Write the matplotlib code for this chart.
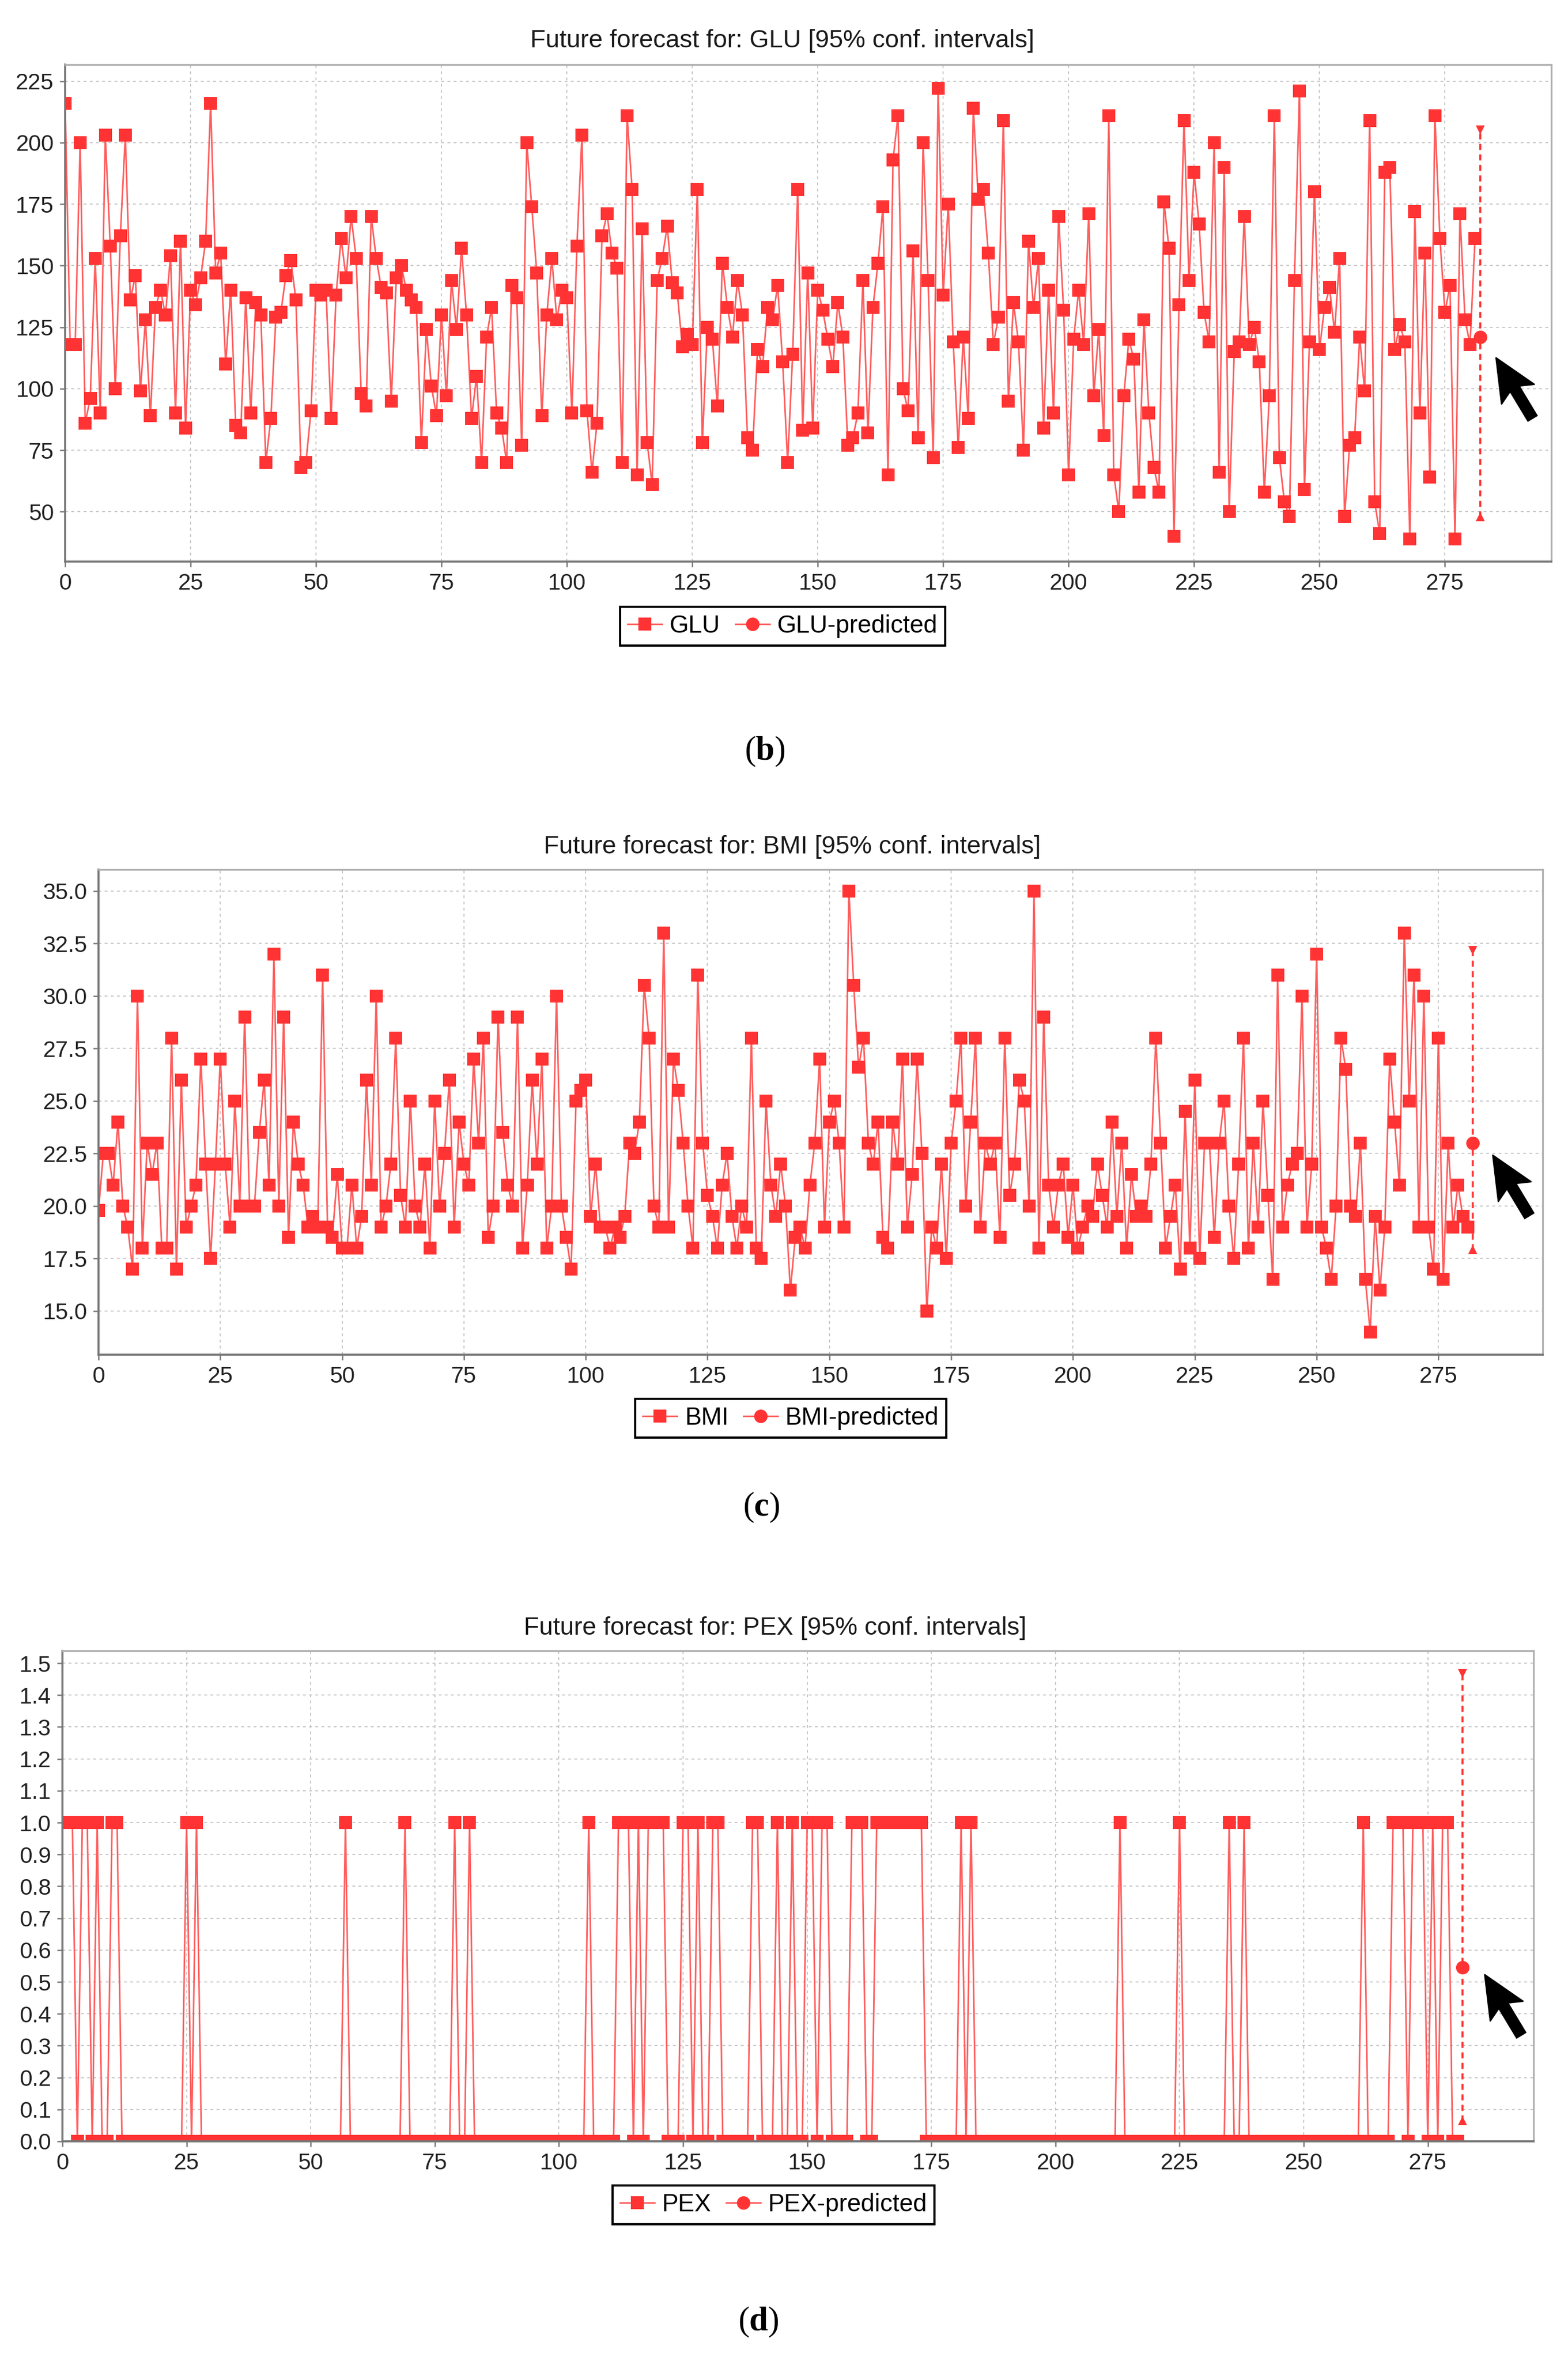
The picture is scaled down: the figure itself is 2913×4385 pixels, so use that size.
import matplotlib
matplotlib.use('Agg')
import matplotlib.pyplot as plt
from matplotlib.patches import Polygon

plt.rcParams['font.family'] = ['Liberation Sans', 'DejaVu Sans']
plt.rcParams['mathtext.fontset'] = 'custom'
plt.rcParams['mathtext.rm'] = 'Liberation Serif'
plt.rcParams['mathtext.bf'] = 'Liberation Serif:bold'

W, H, DPI = 2913, 4385, 300

x_ticks = [0, 25, 50, 75, 100, 125, 150, 175, 200, 225, 250, 275]

# GLU series, index 0..281
glu = [216, 118, 118, 200, 86, 96, 153, 90, 203, 158,
       100, 162, 203, 136, 146, 99, 128, 89, 133, 140,
       130, 154, 90, 160, 84, 140, 134, 145, 160, 216,
       147, 155, 110, 140, 85, 82, 137, 90, 135, 130,
       70, 88, 129, 131, 146, 152, 136, 68, 70, 91,
       140, 138, 140, 88, 138, 161, 145, 170, 153, 98,
       93, 170, 153, 141, 139, 95, 145, 150, 140, 136,
       133, 78, 124, 101, 89, 130, 97, 144, 124, 157,
       130, 88, 105, 70, 121, 133, 90, 84, 70, 142,
       137, 77, 200, 174, 147, 89, 130, 153, 128, 140,
       137, 90, 158, 203, 91, 66, 86, 162, 171, 155,
       149, 70, 211, 181, 65, 165, 78, 61, 144, 153,
       166, 143, 139, 117, 122, 118, 181, 78, 125, 120,
       93, 151, 133, 121, 144, 130, 80, 75, 116, 109,
       133, 128, 142, 111, 70, 114, 181, 83, 147, 84,
       140, 132, 120, 109, 135, 121, 77, 80, 90, 144,
       82, 133, 151, 174, 65, 193, 211, 100, 91, 156,
       80, 200, 144, 72, 222, 138, 175, 119, 76, 121,
       88, 214, 177, 181, 155, 118, 129, 209, 95, 135,
       119, 75, 160, 133, 153, 84, 140, 90, 170, 132,
       65, 120, 140, 118, 171, 97, 124, 81, 211, 65,
       50, 97, 120, 112, 58, 128, 90, 68, 58, 176,
       157, 40, 134, 209, 144, 188, 167, 131, 119, 200,
       66, 190, 50, 115, 119, 170, 118, 125, 111, 58,
       97, 211, 72, 54, 48, 144, 221, 59, 119, 180,
       116, 133, 141, 123, 153, 48, 77, 80, 121, 99,
       209, 54, 41, 188, 190, 116, 126, 119, 39, 172,
       90, 155, 64, 211, 161, 131, 142, 39, 171, 128,
       118, 161]
glu_pred = 121.0
glu_ci = [47.7, 205.5]
glu_yticks = [50, 75, 100, 125, 150, 175, 200, 225]

bmi = [19.8, 22.5, 22.5, 21, 24, 20, 19, 17, 30, 18,
       23, 21.5, 23, 18, 18, 28, 17, 26, 19, 20,
       21, 27, 22, 17.5, 22, 27, 22, 19, 25, 20,
       29, 20, 20, 23.5, 26, 21, 32, 20, 29, 18.5,
       24, 22, 21, 19, 19.5, 19, 31, 19, 18.5, 21.5,
       18, 18, 21, 18, 19.5, 26, 21, 30, 19, 20,
       22, 28, 20.5, 19, 25, 20, 19, 22, 18, 25,
       20, 22.5, 26, 19, 24, 22, 21, 27, 23, 28,
       18.5, 20, 29, 23.5, 21, 20, 29, 18, 21, 26,
       22, 27, 18, 20, 30, 20, 18.5, 17, 25, 25.5,
       26, 19.5, 22, 19, 19, 18, 19, 18.5, 19.5, 23,
       22.5, 24, 30.5, 28, 20, 19, 33, 19, 27, 25.5,
       23, 20, 18, 31, 23, 20.5, 19.5, 18, 21, 22.5,
       19.5, 18, 20, 19, 28, 18, 17.5, 25, 21, 19.5,
       22, 20, 16, 18.5, 19, 18, 21, 23, 27, 19,
       24, 25, 23, 19, 35, 30.5, 26.6, 28, 23, 22,
       24, 18.5, 18, 24, 22, 27, 19, 21.5, 27, 22.5,
       15, 19, 18, 22, 17.5, 23, 25, 28, 20, 24,
       28, 19, 23, 22, 23, 18.5, 28, 20.5, 22, 26,
       25, 20, 35, 18, 29, 21, 19, 21, 22, 18.5,
       21, 18, 19, 20, 19.5, 22, 20.5, 19, 24, 19.5,
       23, 18, 21.5, 19.5, 20, 19.5, 22, 28, 23, 18,
       19.5, 21, 17, 24.5, 18, 26, 17.5, 23, 23, 18.5,
       23, 25, 20, 17.5, 22, 28, 18, 23, 19, 25,
       20.5, 16.5, 31, 19, 21, 22, 22.5, 30, 19, 22,
       32, 19, 18, 16.5, 20, 28, 26.5, 20, 19.5, 23,
       16.5, 14, 19.5, 16, 19, 27, 24, 21, 33, 25,
       31, 19, 30, 19, 17, 28, 16.5, 23, 19, 21,
       19.5, 19]
bmi_pred = 23.0
bmi_ci = [17.9, 32.2]
bmi_yticks = [15.0, 17.5, 20.0, 22.5, 25.0, 27.5, 30.0, 32.5, 35.0]

pex = [1, 1, 1, 0, 1, 1, 0, 1, 0, 0,
       1, 1, 0, 0, 0, 0, 0, 0, 0, 0,
       0, 0, 0, 0, 0, 1, 0, 1, 0, 0,
       0, 0, 0, 0, 0, 0, 0, 0, 0, 0,
       0, 0, 0, 0, 0, 0, 0, 0, 0, 0,
       0, 0, 0, 0, 0, 0, 0, 1, 0, 0,
       0, 0, 0, 0, 0, 0, 0, 0, 0, 1,
       0, 0, 0, 0, 0, 0, 0, 0, 0, 1,
       0, 0, 1, 0, 0, 0, 0, 0, 0, 0,
       0, 0, 0, 0, 0, 0, 0, 0, 0, 0,
       0, 0, 0, 0, 0, 0, 1, 0, 0, 0,
       0, 0, 1, 1, 1, 0, 1, 0, 1, 1,
       1, 1, 0, 0, 0, 1, 1, 0, 1, 0,
       0, 1, 1, 0, 0, 0, 0, 0, 0, 1,
       1, 0, 0, 0, 1, 0, 0, 1, 0, 0,
       1, 1, 0, 1, 1, 0, 0, 0, 0, 1,
       1, 1, 0, 0, 1, 1, 1, 1, 1, 1,
       1, 1, 1, 1, 0, 0, 0, 0, 0, 0,
       0, 1, 0, 1, 0, 0, 0, 0, 0, 0,
       0, 0, 0, 0, 0, 0, 0, 0, 0, 0,
       0, 0, 0, 0, 0, 0, 0, 0, 0, 0,
       0, 0, 0, 1, 0, 0, 0, 0, 0, 0,
       0, 0, 0, 0, 0, 1, 0, 0, 0, 0,
       0, 0, 0, 0, 0, 1, 0, 0, 1, 0,
       0, 0, 0, 0, 0, 0, 0, 0, 0, 0,
       0, 0, 0, 0, 0, 0, 0, 0, 0, 0,
       0, 0, 1, 0, 0, 0, 0, 0, 1, 1,
       1, 0, 1, 1, 1, 0, 1, 0, 1, 1,
       0, 0]
pex_pred = 0.545
pex_ci = [0.063, 1.47]
pex_yticks = [0.0, 0.1, 0.2, 0.3, 0.4, 0.5, 0.6, 0.7, 0.8, 0.9,
              1.0, 1.1, 1.2, 1.3, 1.4, 1.5]

RED = '#ff3333'
LINE_RED = '#ff5e5e'


def fx(px):
    return px / W


def fy(py):
    return 1 - py / H


def draw_cursor(fig, tip):
    # mouse pointer left in the screenshot, tilted towards upper left
    dx, dy = 0.516, 0.857
    px, py = -0.857, 0.516
    shape = [(0, 0), (80, -36), (68, -10), (132, -10),
             (132, 10), (68, 10), (80, 36)]
    pts = []
    for u, v in shape:
        X = tip[0] + u * dx + v * px
        Y = tip[1] + u * dy + v * py
        pts.append((fx(X), fy(Y)))
    fig.patches.append(Polygon(pts, closed=True, facecolor='black',
                               edgecolor='black', lw=0.5,
                               transform=fig.transFigure, figure=fig))


def draw_panel(fig, box, name, values, pred, ci, yticks, yfmt, ylim, xmax,
               title_pos, legend_pos, caption, caption_pos, cursor_tip):
    left, top, right, bottom = box
    ax = fig.add_axes([fx(left), fy(bottom), fx(right - left), (bottom - top) / H])
    xs = list(range(len(values)))
    line, = ax.plot(xs, values, '-', color=LINE_RED, lw=0.7,
                    marker='s', ms=5.8, mfc=RED, mec=RED, mew=0,
                    label=name)
    xp = len(values)
    ax.plot([xp, xp], ci, color=RED, lw=0.9, ls=(0, (3, 2.2)))
    ax.plot([xp], [ci[1]], marker='v', ms=2.6, color=RED, ls='none')
    ax.plot([xp], [ci[0]], marker='^', ms=2.6, color=RED, ls='none')
    pline, = ax.plot([xp], [pred], '-', color=LINE_RED, lw=0.7,
                     marker='o', ms=6.0, mfc=RED, mec=RED, mew=0,
                     label=name + '-predicted')

    ax.set_xlim(0, xmax)
    ax.set_ylim(*ylim)
    ax.set_xticks(x_ticks)
    ax.set_yticks(yticks)
    ax.set_yticklabels([yfmt % t for t in yticks])
    ax.grid(True, color='#c8c8c8', lw=0.5, ls=(0, (2.5, 3)))
    ax.set_axisbelow(True)
    ax.tick_params(labelsize=10.2, colors='#222222', length=2.5, width=0.6,
                   pad=2.5)
    ax.tick_params(color='#777777')
    for side in ['top', 'right']:
        ax.spines[side].set_color('#b0b0b0')
        ax.spines[side].set_linewidth(0.8)
    for side in ['left', 'bottom']:
        ax.spines[side].set_color('#777777')
        ax.spines[side].set_linewidth(0.9)

    fig.text(fx(title_pos[0]), fy(title_pos[1]),
             'Future forecast for: %s [95%% conf. intervals]' % name,
             ha='center', va='center', fontsize=11.2, color='#1a1a1a')

    leg = fig.legend([line, pline], [name, name + '-predicted'], loc='center',
                     bbox_to_anchor=(fx(legend_pos[0]), fy(legend_pos[1])),
                     bbox_transform=fig.transFigure, ncol=2, fontsize=11,
                     frameon=True, fancybox=False, framealpha=1,
                     edgecolor='black', borderpad=0.3, handlelength=1.4,
                     handletextpad=0.3, columnspacing=0.6, borderaxespad=0)
    leg.get_frame().set_linewidth(1.0)

    fig.text(fx(caption_pos[0]), fy(caption_pos[1]),
             r'$\mathrm{(}\mathbf{%s}\mathrm{)}$' % caption,
             ha='center', va='center', fontsize=15, color='black')

    draw_cursor(fig, cursor_tip)
    return ax


fig = plt.figure(figsize=(W / DPI, H / DPI), dpi=DPI)
fig.patch.set_facecolor('white')

draw_panel(fig, (121, 120, 2882, 1043), 'GLU', glu, glu_pred, glu_ci,
           glu_yticks, '%d', (29.7, 231.7), 296.2,
           (1453, 76), (1454, 1163), 'b', (1421, 1396), (2779, 664))

draw_panel(fig, (183, 1615, 2866, 2516), 'BMI', bmi, bmi_pred, bmi_ci,
           bmi_yticks, '%.1f', (12.92, 36.02), 296.4,
           (1472, 1573), (1469, 2634), 'c', (1414, 2800), (2773, 2145))

draw_panel(fig, (116, 3066, 2849, 3977), 'PEX', pex, pex_pred, pex_ci,
           pex_yticks, '%.1f', (0.0, 1.539), 296.3,
           (1440, 3024), (1437, 4095), 'd', (1409, 4313), (2758, 3667))

plt.savefig('out.png', dpi=DPI)
plt.close()
